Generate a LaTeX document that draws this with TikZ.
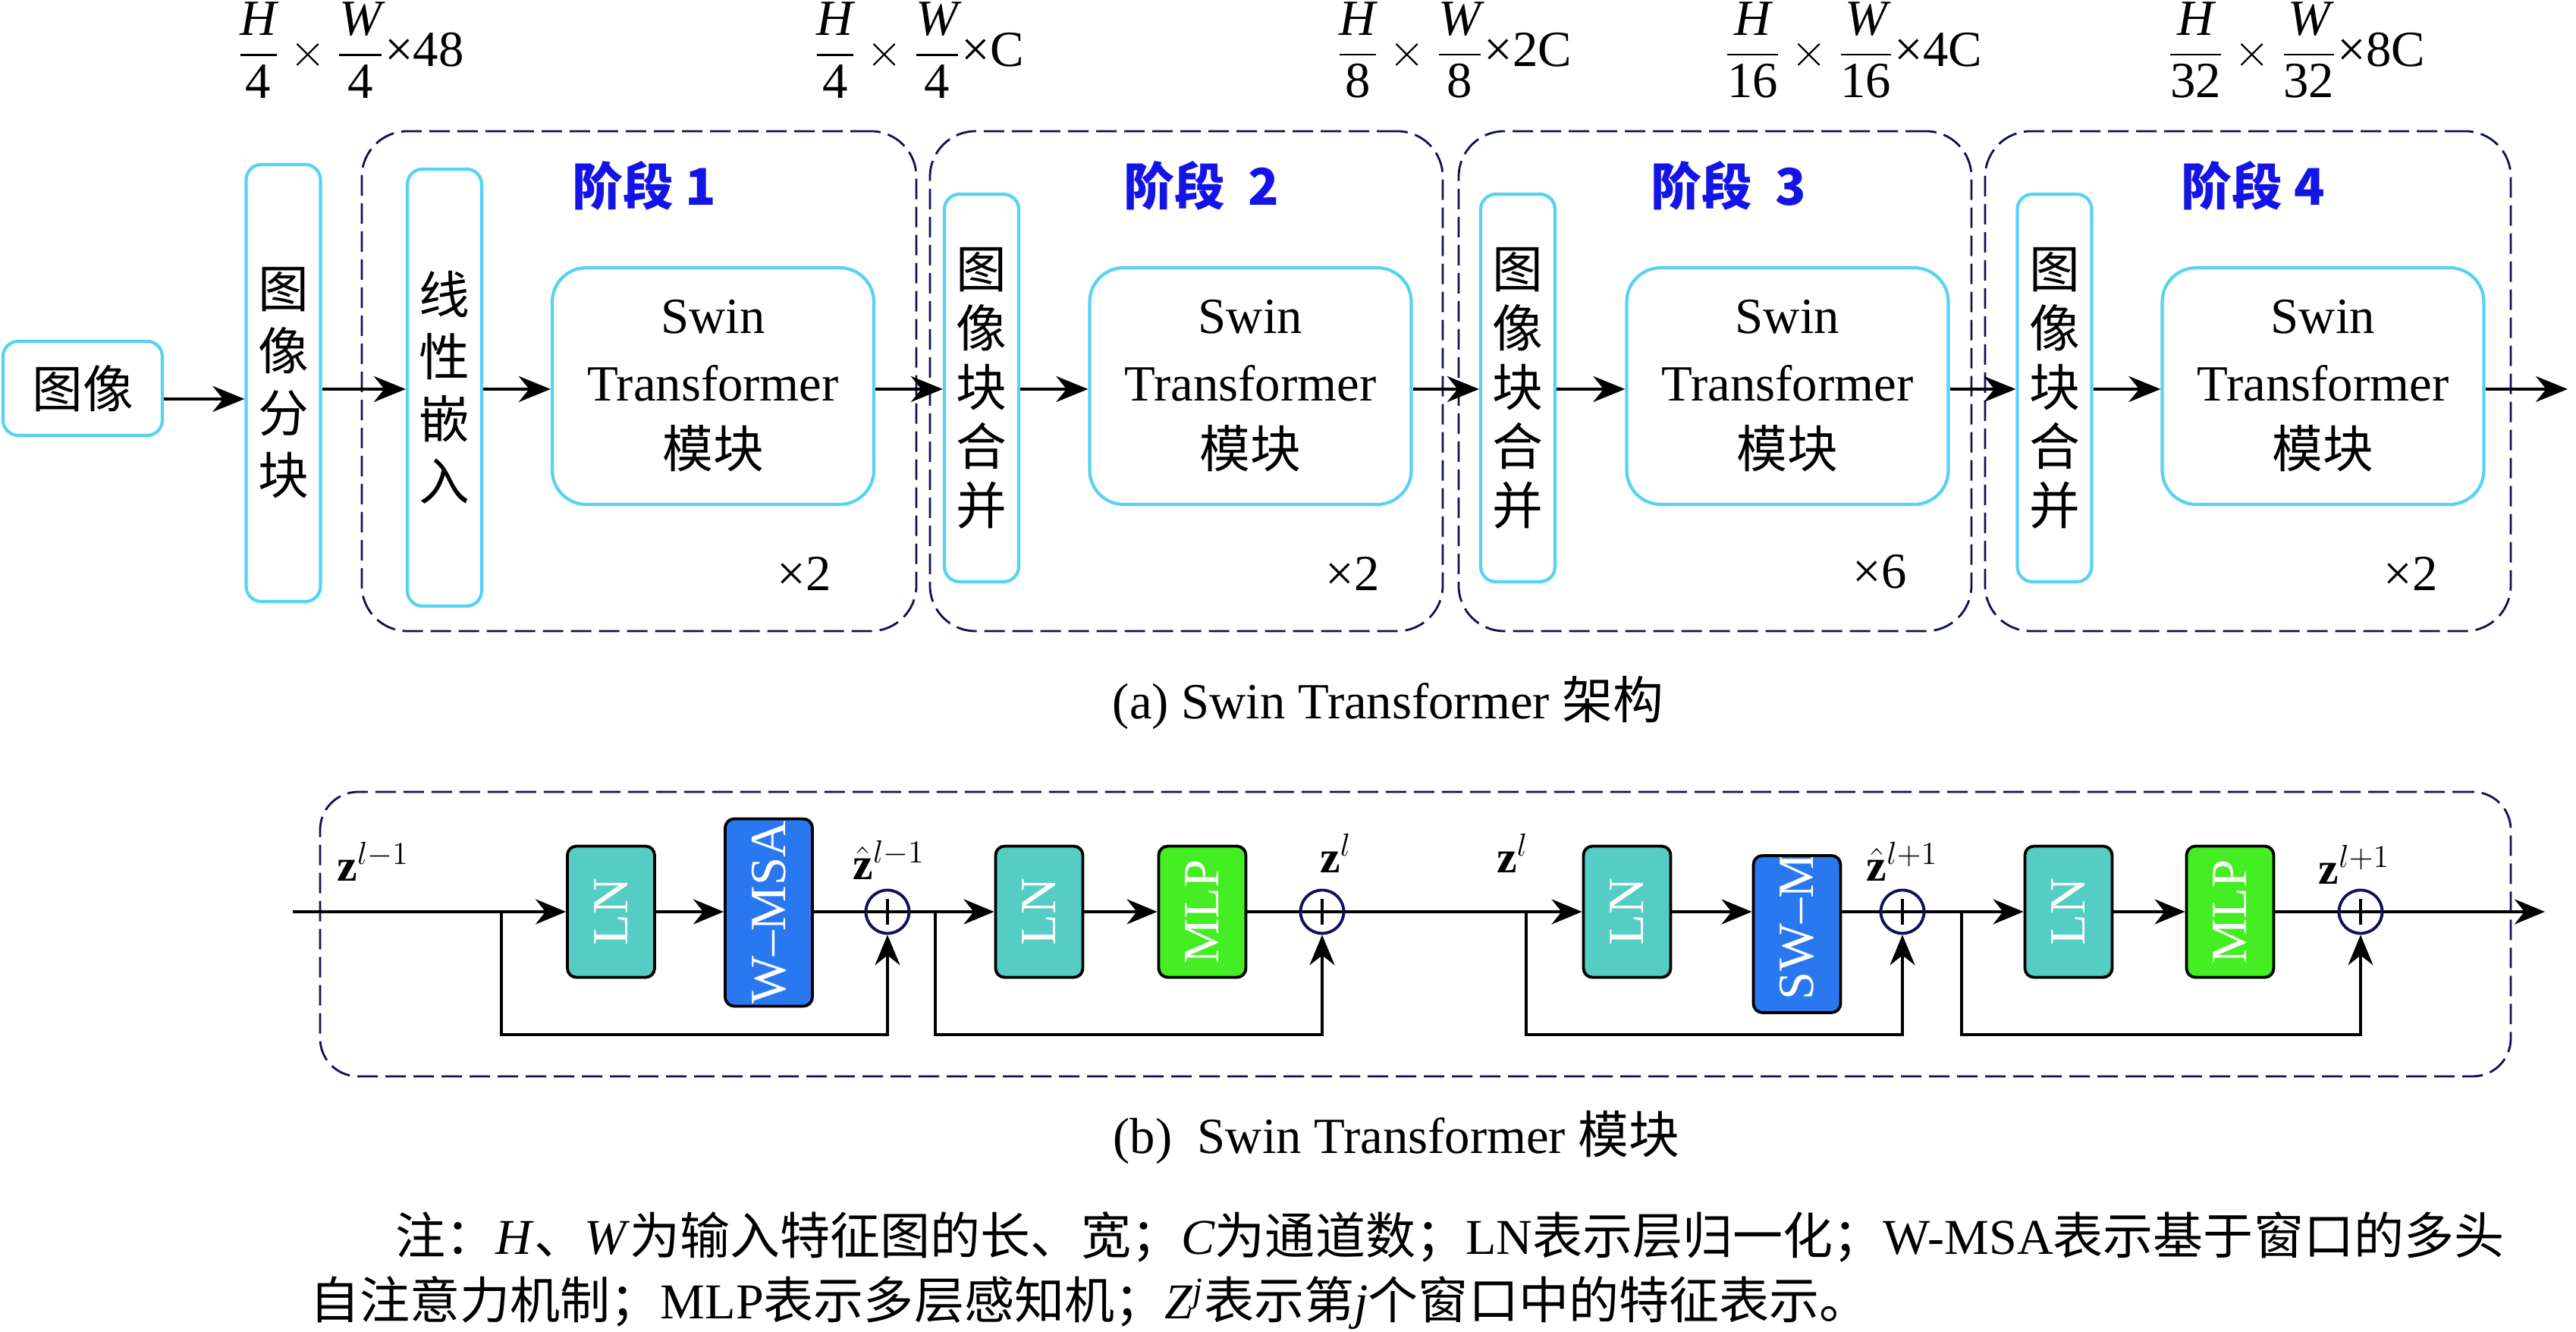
\documentclass[tikz,border=0pt]{standalone}
\usepackage{amsmath}
\usepackage{fontspec}
\setmainfont{Liberation Serif}
\setsansfont{Liberation Sans}
\newfontfamily\cjk{Noto Sans CJK SC}
\usetikzlibrary{arrows.meta}

\definecolor{boxcyan}{RGB}{86,211,243}
\definecolor{stagenavy}{RGB}{16,16,90}
\definecolor{stageblue}{RGB}{20,20,230}
\definecolor{lncol}{RGB}{85,205,197}
\definecolor{msacol}{RGB}{42,120,240}
\definecolor{mlpcol}{RGB}{68,238,34}

\tikzset{
  cyanbox/.style={draw=boxcyan, line width=1.2pt, rounded corners=0.2cm, align=center, inner sep=0pt},
  tallbox/.style={cyanbox, minimum width=0.98cm, minimum height=5.76cm, font=\cjk\fontsize{19}{23.3}\selectfont},
  mergebox/.style={cyanbox, minimum width=0.98cm, minimum height=5.11cm, font=\cjk\fontsize{19}{22.2}\selectfont},
  swinbox/.style={cyanbox, rounded corners=0.45cm, minimum width=4.24cm, minimum height=3.12cm},
  stagebox/.style={draw=stagenavy, line width=0.8pt, dash pattern=on 0.27cm off 0.1cm, rounded corners=0.6cm, minimum height=6.59cm},
  stagelab/.style={text=stageblue, font=\cjk\bfseries\fontsize{19}{23}\selectfont},
  arr/.style={-{Stealth[length=4.2mm,width=3.4mm]}, line width=1.3pt},
  arrb/.style={-{Stealth[length=4mm,width=3.3mm]}, line width=1.25pt},
  skiparr/.style={-{Stealth[length=4mm,width=3.3mm]}, line width=0.95pt},
  blk/.style={draw=black, line width=1.1pt, rounded corners=0.12cm, minimum width=1.15cm, inner sep=0pt},
  lnbox/.style={blk, fill=lncol, minimum height=1.73cm, label={[rotate=90, text=white]center:LN}},
  mlpbox/.style={blk, fill=mlpcol, minimum height=1.73cm, label={[rotate=90, text=white]center:MLP}},
  msabox/.style={blk, fill=msacol},
  plus/.style={circle, draw=stagenavy, line width=1.1pt, fill=white, minimum size=0.57cm, inner sep=0pt,
    path picture={
      \draw[black, line width=1pt] (path picture bounding box.west) -- (path picture bounding box.east);
      \draw[black, line width=1pt] ([yshift=1.7mm]path picture bounding box.center) -- ([yshift=-1.7mm]path picture bounding box.center);
    }},
  zlab/.style={font=\fontsize{17}{20}\selectfont},
  notetext/.style={anchor=west, font=\fontsize{18.8}{24}\selectfont},
}

\begin{document}
\begin{tikzpicture}[font=\fontsize{19}{25.2}\selectfont]
\useasboundingbox (0,0) rectangle (33.96,17.56);

% (a) stages
\node[stagebox, minimum width=7.31cm] (st1) at (8.425,12.535) {};
\node[stagebox, minimum width=6.76cm] (st2) at (15.64,12.535) {};
\node[stagebox, minimum width=6.76cm] (st3) at (22.61,12.535) {};
\node[stagebox, minimum width=6.93cm] (st4) at (29.635,12.535) {};

\node[stagelab] (st1lab) at (8.49,15.11) {阶段 1};
\node[stagelab] (st2lab) at (15.84,15.11) {阶段\ \ 2};
\node[stagelab] (st3lab) at (22.79,15.11) {阶段\ \ 3};
\node[stagelab] (st4lab) at (29.70,15.11) {阶段 4};

% (a) boxes
\node[cyanbox, minimum width=2.10cm, minimum height=1.24cm] (img) at (1.09,12.44) {\cjk 图像};
\node[tallbox] (patch) at (3.735,12.51) {图\\像\\分\\块};
\node[tallbox] (embed) at (5.86,12.45) {线\\性\\嵌\\入};
\node[swinbox] (sw1) at (9.40,12.47) {Swin\\Transformer\\{\cjk 模块}};
\node[mergebox] (mg2) at (12.94,12.445) {图\\像\\块\\合\\并};
\node[swinbox] (sw2) at (16.485,12.47) {Swin\\Transformer\\{\cjk 模块}};
\node[mergebox] (mg3) at (20.01,12.445) {图\\像\\块\\合\\并};
\node[swinbox] (sw3) at (23.565,12.47) {Swin\\Transformer\\{\cjk 模块}};
\node[mergebox] (mg4) at (27.085,12.445) {图\\像\\块\\合\\并};
\node[swinbox] (sw4) at (30.625,12.47) {Swin\\Transformer\\{\cjk 模块}};

\node (rep1) at (10.60,10.00) {×2};
\node (rep2) at (17.83,10.00) {×2};
\node (rep3) at (24.78,10.02) {×6};
\node (rep4) at (31.78,10.00) {×2};

% sizes on top
\node (d1) at (4.62,16.90) {$\dfrac{\mathit{H}}{\text{4}}\times\dfrac{\mathit{W}}{\text{4}}$×48};
\node (d2) at (12.11,16.90) {$\dfrac{\mathit{H}}{\text{4}}\times\dfrac{\mathit{W}}{\text{4}}$×C};
\node (d3) at (19.17,16.90) {$\dfrac{\mathit{H}}{\text{8}}\times\dfrac{\mathit{W}}{\text{8}}$×2C};
\node (d4) at (24.43,16.90) {$\dfrac{\mathit{H}}{\text{16}}\times\dfrac{\mathit{W}}{\text{16}}$×4C};
\node (d5) at (30.27,16.90) {$\dfrac{\mathit{H}}{\text{32}}\times\dfrac{\mathit{W}}{\text{32}}$×8C};

% (a) arrows
\coordinate (m) at (0,12.43);
\coordinate (outa) at (33.85,12.43);
\draw[arr] ([yshift=-1.4mm]img.east) -- ([yshift=-1.4mm]img.east -| patch.west);
\draw[arr] (patch.east |- m) -- (embed.west |- m);
\draw[arr] (embed.east |- m) -- (sw1.west |- m);
\draw[arr] (sw1.east |- m) -- (mg2.west |- m);
\draw[arr] (mg2.east |- m) -- (sw2.west |- m);
\draw[arr] (sw2.east |- m) -- (mg3.west |- m);
\draw[arr] (mg3.east |- m) -- (sw3.west |- m);
\draw[arr] (sw3.east |- m) -- (mg4.west |- m);
\draw[arr] (mg4.east |- m) -- (sw4.west |- m);
\draw[arr] (sw4.east |- m) -- (outa);

\node (capa) at (18.30,8.29) {(a) Swin Transformer {\cjk 架构}};

% (b) block
\node[stagebox, minimum width=28.88cm, minimum height=3.75cm, rounded corners=0.5cm] (blk) at (18.66,5.245) {};

\coordinate (m2) at (0,5.54);
\coordinate (low) at (0,3.92);
\coordinate (inb) at (3.86,5.54);
\coordinate (outb) at (33.55,5.54);

\node[lnbox] (ln1) at (8.055,5.54) {};
\node[msabox, minimum height=2.47cm, label={[rotate=90, text=white]center:W–MSA}] (wmsa) at (10.135,5.53) {};
\node[plus] (p1) at (11.70,5.54) {};
\node[lnbox] (ln2) at (13.70,5.54) {};
\node[mlpbox] (mlp1) at (15.85,5.54) {};
\node[plus] (p2) at (17.43,5.54) {};
\node[lnbox] (ln3) at (21.45,5.54) {};
\node[msabox, minimum height=2.07cm,
  path picture={\node[rotate=90, anchor=west, text=white, inner sep=0pt] at ([yshift=1.5mm]path picture bounding box.south) {SW–MSA};}] (swmsa) at (23.69,5.245) {};
\node[plus] (p3) at (25.08,5.54) {};
\node[lnbox] (ln4) at (27.27,5.54) {};
\node[mlpbox] (mlp2) at (29.40,5.54) {};
\node[plus] (p4) at (31.12,5.54) {};

\node[zlab] (z1) at (4.92,6.20) {$\mathbf{z}^{l-1}$};
\node[zlab] (z2) at (11.72,6.22) {$\hat{\mathbf{z}}^{l-1}$};
\node[zlab] (z3) at (17.61,6.31) {$\mathbf{z}^{l}$};
\node[zlab] (z4) at (19.94,6.31) {$\mathbf{z}^{l}$};
\node[zlab] (z5) at (25.08,6.20) {$\hat{\mathbf{z}}^{l+1}$};
\node[zlab] (z6) at (31.04,6.16) {$\mathbf{z}^{l+1}$};

% (b) main line
\draw[arrb] (inb) -- (ln1.west);
\draw[arrb] (ln1.east) -- (ln1.east -| wmsa.west);
\draw[line width=1.25pt] (wmsa.east |- m2) -- (p1.west);
\draw[arrb] (p1.east) -- (ln2.west);
\draw[arrb] (ln2.east) -- (mlp1.west);
\draw[line width=1.25pt] (mlp1.east) -- (p2.west);
\draw[arrb] (p2.east) -- (ln3.west);
\draw[arrb] (ln3.east) -- (ln3.east -| swmsa.west);
\draw[line width=1.25pt] (swmsa.east |- m2) -- (p3.west);
\draw[arrb] (p3.east) -- (ln4.west);
\draw[arrb] (ln4.east) -- (mlp2.west);
\draw[line width=1.25pt] (mlp2.east) -- (p4.west);
\draw[arrb] (p4.east) -- (outb);

% (b) skips
\coordinate (s1) at (6.61,5.54);
\coordinate (s2) at (12.33,5.54);
\coordinate (s3) at (20.12,5.54);
\coordinate (s4) at (25.86,5.54);
\draw[skiparr] (s1) |- (p1 |- low) -- (p1.south);
\draw[skiparr] (s2) |- (p2 |- low) -- (p2.south);
\draw[skiparr] (s3) |- (p3 |- low) -- (p3.south);
\draw[skiparr] (s4) |- (p4 |- low) -- (p4.south);

\node (capb) at (18.41,2.56) {(b)\ \ Swin Transformer {\cjk 模块}};

% note
\node[notetext] (note1) at (5.09,1.25) {{\cjk 注：}\textit{H}{\cjk 、}\textit{W}{\cjk 为输入特征图的长、宽；}\textit{C}{\cjk 为通道数；}LN{\cjk 表示层归一化；}W-MSA{\cjk 表示基于窗口的多头}};
\node[notetext] (note2) at (3.96,0.38) {{\cjk 自注意力机制；}MLP{\cjk 表示多层感知机；}\textit{Z}\textsuperscript{\textit{j}}{\cjk 表示第}\textit{j}{\cjk 个窗口中的特征表示。}};

\end{tikzpicture}
\end{document}
